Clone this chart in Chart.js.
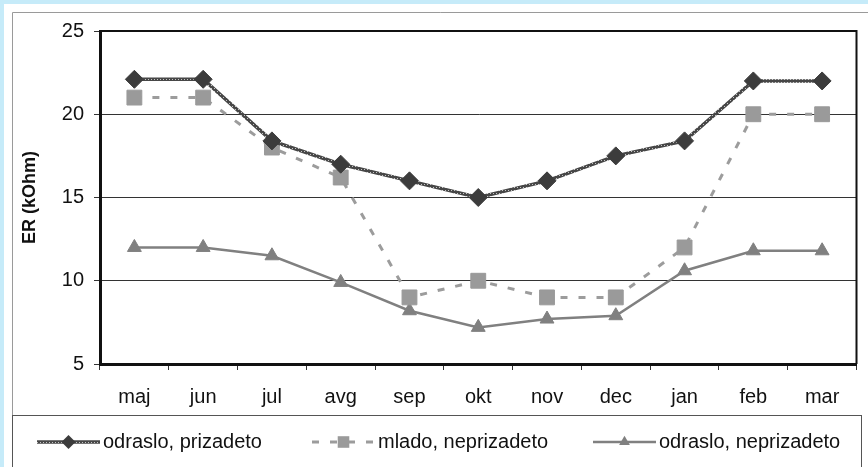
<!DOCTYPE html>
<html>
<head>
<meta charset="utf-8">
<script src="https://cdn.jsdelivr.net/npm/chart.js@4.4.1/dist/chart.umd.min.js"></script>
<style>
  html, body { margin: 0; padding: 0; background: #c6ebf9; }
  #c { position: absolute; left: 0; top: 0; }
</style>
</head>
<body>
<canvas id="c" width="868" height="467"></canvas>
<script>
const months = ['maj', 'jun', 'jul', 'avg', 'sep', 'okt', 'nov', 'dec', 'jan', 'feb', 'mar'];
const odrasloPrizadeto = [22.1, 22.1, 18.4, 17.0, 16.0, 15.0, 16.0, 17.5, 18.4, 22.0, 22.0];
const mladoNeprizadeto = [21.0, 21.0, 18.0, 16.2, 9.0, 10.0, 9.0, 9.0, 12.0, 20.0, 20.0];
const odrasloNeprizadeto = [12.0, 12.0, 11.5, 9.9, 8.2, 7.2, 7.7, 7.9, 10.6, 11.8, 11.8];
const seriesNames = ['odraslo, prizadeto', 'mlado, neprizadeto', 'odraslo, neprizadeto'];
const yMin = 5, yMax = 25, yStep = 5;

const FONT = '"Liberation Sans", Arial, sans-serif';
const canvas = document.getElementById('c');

// textured "beaded" line like the original
function beadPattern() {
  const p = document.createElement('canvas');
  p.width = 3; p.height = 3;
  const g = p.getContext('2d');
  g.fillStyle = '#474747';
  g.fillRect(0, 0, 3, 3);
  g.fillStyle = '#c4c4c4';
  g.fillRect(1, 1, 1, 1);
  return canvas.getContext('2d').createPattern(p, 'repeat');
}

function marker(ctx, style, r, x, y) {
  ctx.beginPath();
  if (style === 'rectRot') {
    ctx.moveTo(x, y - r); ctx.lineTo(x + r, y); ctx.lineTo(x, y + r); ctx.lineTo(x - r, y);
  } else if (style === 'rect') {
    const s = r * Math.SQRT1_2;
    ctx.rect(x - s, y - s, 2 * s, 2 * s);
  } else {
    ctx.moveTo(x, y - r);
    ctx.lineTo(x + r * 0.866, y + r / 2);
    ctx.lineTo(x - r * 0.866, y + r / 2);
  }
  ctx.closePath();
  ctx.fill();
}

const framePlugin = {
  id: 'frame',
  beforeDraw(chart) {
    const ctx = chart.ctx;
    ctx.save();
    ctx.fillStyle = '#ffffff';
    ctx.fillRect(4, 4, 868, 467);
    ctx.strokeStyle = '#9a9a9a';
    ctx.lineWidth = 1;
    ctx.beginPath();
    ctx.moveTo(12.5, 467); ctx.lineTo(12.5, 12.5); ctx.lineTo(868, 12.5);
    ctx.stroke();
    ctx.strokeStyle = '#555';
    ctx.strokeRect(12.5, 415.5, 849, 80);
    ctx.restore();
  },
  beforeDatasetsDraw(chart) {
    const a = chart.chartArea, ctx = chart.ctx;
    ctx.save();
    ctx.strokeStyle = '#111';
    ctx.lineWidth = 2;
    ctx.beginPath();
    ctx.moveTo(a.left, a.top); ctx.lineTo(a.right, a.top); ctx.lineTo(a.right, a.bottom);
    ctx.stroke();
    ctx.restore();
  },
  afterDraw(chart) {
    const ctx = chart.ctx;
    const xs = [37, 312, 593];
    const y = 442, len = 63;
    ctx.save();
    chart.data.datasets.forEach((ds, i) => {
      const x = xs[i];
      ctx.strokeStyle = ds.borderColor;
      ctx.lineWidth = ds.borderWidth;
      ctx.setLineDash(ds.borderDash || []);
      ctx.beginPath();
      ctx.moveTo(x, y); ctx.lineTo(x + len, y);
      ctx.stroke();
      ctx.setLineDash([]);
      ctx.fillStyle = ds.pointBackgroundColor;
      marker(ctx, ds.pointStyle, ds.pointRadius * 0.78, x + len / 2, y);
      ctx.fillStyle = '#111';
      ctx.font = '20px ' + FONT;
      ctx.textBaseline = 'middle';
      ctx.fillText(ds.label, x + len + 3, y);
    });
    ctx.restore();
  }
};

new Chart(canvas, {
  type: 'line',
  data: {
    labels: months,
    datasets: [
      {
        label: seriesNames[0],
        data: odrasloPrizadeto,
        borderColor: beadPattern(),
        borderWidth: 3.5,
        pointStyle: 'rectRot',
        pointRadius: 9,
        pointBackgroundColor: '#3c3c3c',
        pointBorderColor: '#3c3c3c',
        pointBorderWidth: 1,
        tension: 0
      },
      {
        label: seriesNames[1],
        data: mladoNeprizadeto,
        borderColor: '#9c9c9c',
        borderWidth: 3,
        borderDash: [7, 11],
        pointStyle: 'rect',
        pointRadius: 10.5,
        pointBackgroundColor: '#9a9a9a',
        pointBorderColor: '#9a9a9a',
        pointBorderWidth: 1,
        tension: 0
      },
      {
        label: seriesNames[2],
        data: odrasloNeprizadeto,
        borderColor: '#808080',
        borderWidth: 2.5,
        pointStyle: 'triangle',
        pointRadius: 8,
        pointBackgroundColor: '#808080',
        pointBorderColor: '#808080',
        pointBorderWidth: 1,
        tension: 0
      }
    ]
  },
  options: {
    responsive: false,
    animation: false,
    layout: { padding: { left: 13, top: 31, right: 11, bottom: 53 } },
    plugins: {
      legend: { display: false },
      tooltip: { enabled: false }
    },
    scales: {
      x: {
        offset: true,
        afterFit: (s) => { s.height = 50; },
        grid: { offset: true, drawOnChartArea: false, tickLength: 6, color: '#333' },
        border: { color: '#111', width: 3 },
        ticks: { color: '#111', padding: 15, font: { family: FONT, size: 20 } }
      },
      y: {
        min: yMin,
        max: yMax,
        afterFit: (s) => { s.width = 87; },
        ticks: { stepSize: yStep, color: '#111', padding: 10, font: { family: FONT, size: 20 } },
        grid: { color: '#333', lineWidth: 1, tickLength: 6 },
        border: { color: '#111', width: 3 },
        title: {
          display: true,
          text: 'ER (kOhm)',
          color: '#111',
          font: { family: FONT, size: 18, weight: 'bold' },
          padding: { top: 6, bottom: 0 }
        }
      }
    }
  },
  plugins: [framePlugin]
});
</script>
</body>
</html>
